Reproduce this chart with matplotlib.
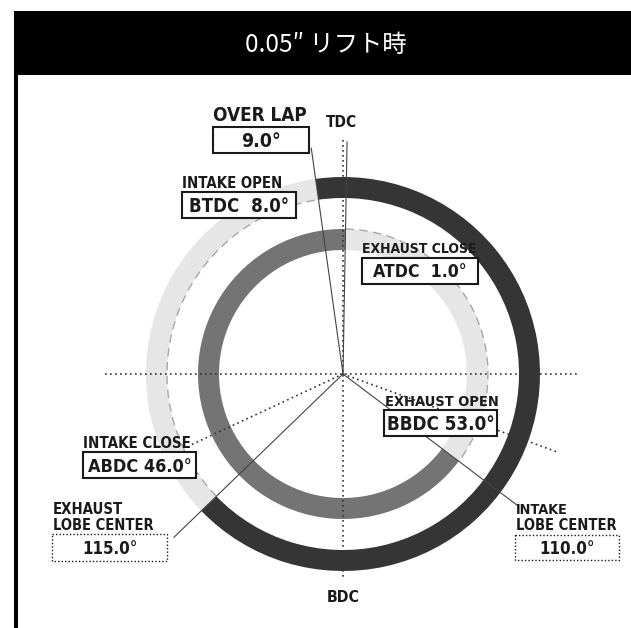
import os
import numpy as np
import matplotlib
matplotlib.use("Agg")
import matplotlib.pyplot as plt
from matplotlib.patches import Wedge, Arc, Rectangle
from matplotlib import font_manager

# valve timing @ 0.05" lift
events = ["INTAKE OPEN", "INTAKE CLOSE", "EXHAUST OPEN", "EXHAUST CLOSE"]
refs = ["BTDC", "ABDC", "BBDC", "ATDC"]
degrees = [8.0, 46.0, 53.0, 1.0]
lobe_names = ["INTAKE", "EXHAUST"]
lobe_centers = [110.0, 115.0]
overlap = 9.0
title = "0.05″ リフト時"

# crank angle, clockwise from TDC
def crank(ref, d):
    return {"BTDC": -d, "ATDC": d, "BBDC": 180 - d, "ABDC": 180 + d}[ref]

ang = {e: crank(r, d) for e, r, d in zip(events, refs, degrees)}
io, ic = ang["INTAKE OPEN"], ang["INTAKE CLOSE"]
eo, ec = ang["EXHAUST OPEN"], ang["EXHAUST CLOSE"]
ilc = lobe_centers[0]
elc = 360 - lobe_centers[1]

# look for a narrow bold face, else plain bold
fp_file = None
for f in font_manager.fontManager.ttflist:
    n = (f.name + " " + os.path.basename(f.fname)).lower()
    if ("condensed" in n or "narrow" in n) and "extra" not in n and "semi" not in n \
            and f.weight in ("bold", 700) and f.style == "normal":
        fp_file = f.fname
        break
if fp_file:
    base_fp = font_manager.FontProperties(fname=fp_file)
else:
    base_fp = font_manager.FontProperties(family="DejaVu Sans", weight="bold")

cx, cy = 343, 374
dark, mid, light, edge = "#353535", "#747474", "#e6e6e6", "#a8a8a8"

fig = plt.figure(figsize=(6.31, 6.28), dpi=100)
ax = fig.add_axes([0, 0, 1, 1])
ax.set_xlim(0, 631)
ax.set_ylim(628, 0)
ax.set_aspect("equal")
ax.axis("off")
renderer = fig.canvas.get_renderer()

def pol(a, r):
    t = np.radians(a)
    return cx + r * np.sin(t), cy - r * np.cos(t)

# outer track = intake, inner track = exhaust
ax.add_patch(Wedge((cx, cy), 197, io - 90, ic - 90, width=21, fc=dark, ec="none", zorder=2))
ax.add_patch(Wedge((cx, cy), 197, ic - 90, io + 270, width=21, fc=light, ec="none", zorder=2))
ax.add_patch(Arc((cx, cy), 352, 352, theta1=ic - 90, theta2=io + 270, color=edge,
                 lw=1, ls=(0, (6, 4)), zorder=3))
ax.add_patch(Wedge((cx, cy), 145, eo - 90, ec + 270, width=21, fc=mid, ec="none", zorder=2))
ax.add_patch(Wedge((cx, cy), 145, ec - 90, eo - 90, width=21, fc=light, ec="none", zorder=2))
ax.add_patch(Arc((cx, cy), 290, 290, theta1=ec - 90, theta2=eo - 90, color=edge,
                 lw=1, ls=(0, (6, 4)), zorder=3))

# guide lines
dot = dict(color="#333333", lw=1.2, ls=(0, (1, 2)), zorder=4)
ax.plot([cx, cx], [cy - 234, cy + 204], **dot)
ax.plot([cx - 238, cx + 236], [cy, cy], **dot)
for a, r in [(ilc, 227), (elc, 168)]:
    x, y = pol(a, r)
    ax.plot([cx, x], [cy, y], **dot)
for a, r in [(io, 228), (ec, 232), (eo, 218), (ic, 235)]:
    x, y = pol(a, r)
    ax.plot([cx, x], [cy, y], color="#444444", lw=0.8, zorder=4)

def label(x, yc, s, w, cap, ha="left"):
    # fit text to width w px, at most cap px cap-height, caps centred on yc
    t = ax.text(x, yc, s, fontproperties=base_fp, fontsize=10, color="#1a1a1a",
                ha=ha, va="baseline", zorder=6)
    bw = t.get_window_extent(renderer).width
    size = min(10 * w / bw, cap / 0.73 * 0.72)
    t.set_fontsize(size)
    t.set_y(yc + 0.365 * size * 100 / 72)

def box(x0, y0, x1, y1, s, w, cap, dotted=False):
    ls = (0, (1, 1.5)) if dotted else "-"
    ax.add_patch(Rectangle((x0, y0), x1 - x0, y1 - y0, fc="white", ec="#1a1a1a",
                           lw=1.0 if dotted else 1.5, ls=ls, zorder=5))
    label((x0 + x1) / 2, (y0 + y1) / 2, s, w, cap, ha="center")

def val(i):
    return f"{refs[i]} {degrees[i]:4.1f}°"

label(341, 121, "TDC", 31, 16, "center")
label(343, 596, "BDC", 33, 15, "center")

label(213, 114, "OVER LAP", 94, 17)
box(213, 127, 309, 153, f"{overlap:.1f}°", 40, 16)

label(182, 183, events[0], 100, 11)
box(182, 192, 296, 218, val(0), 100, 17)
label(362, 248, events[3], 115, 11)
box(362, 258, 478, 284, val(3), 94, 15)
label(385, 401, events[2], 113, 12)
box(384, 410, 497, 436, val(2), 108, 16)
label(83, 442, events[1], 110, 11)
box(83, 452, 196, 478, val(1), 104, 16)

label(53, 509, lobe_names[1], 70, 12)
label(53, 525, "LOBE CENTER", 100, 12)
box(52, 534, 167, 561, f"{lobe_centers[1]:.1f}°", 56, 16, dotted=True)
label(516, 509, lobe_names[0], 52, 12)
label(516, 525, "LOBE CENTER", 100, 12)
box(515, 535, 619, 560, f"{lobe_centers[0]:.1f}°", 56, 15, dotted=True)

# title band and left border
ax.add_patch(Rectangle((14, 11), 640, 64, fc="black", ec="none", zorder=7))
ax.add_patch(Rectangle((14, 11), 4, 640, fc="black", ec="none", zorder=7))
ax.text(326, 45, title, color="white", fontsize=17.5, ha="center", va="center",
        fontfamily=["Noto Sans CJK JP", "DejaVu Sans"], zorder=8)

fig.savefig("out.png", dpi=100)
